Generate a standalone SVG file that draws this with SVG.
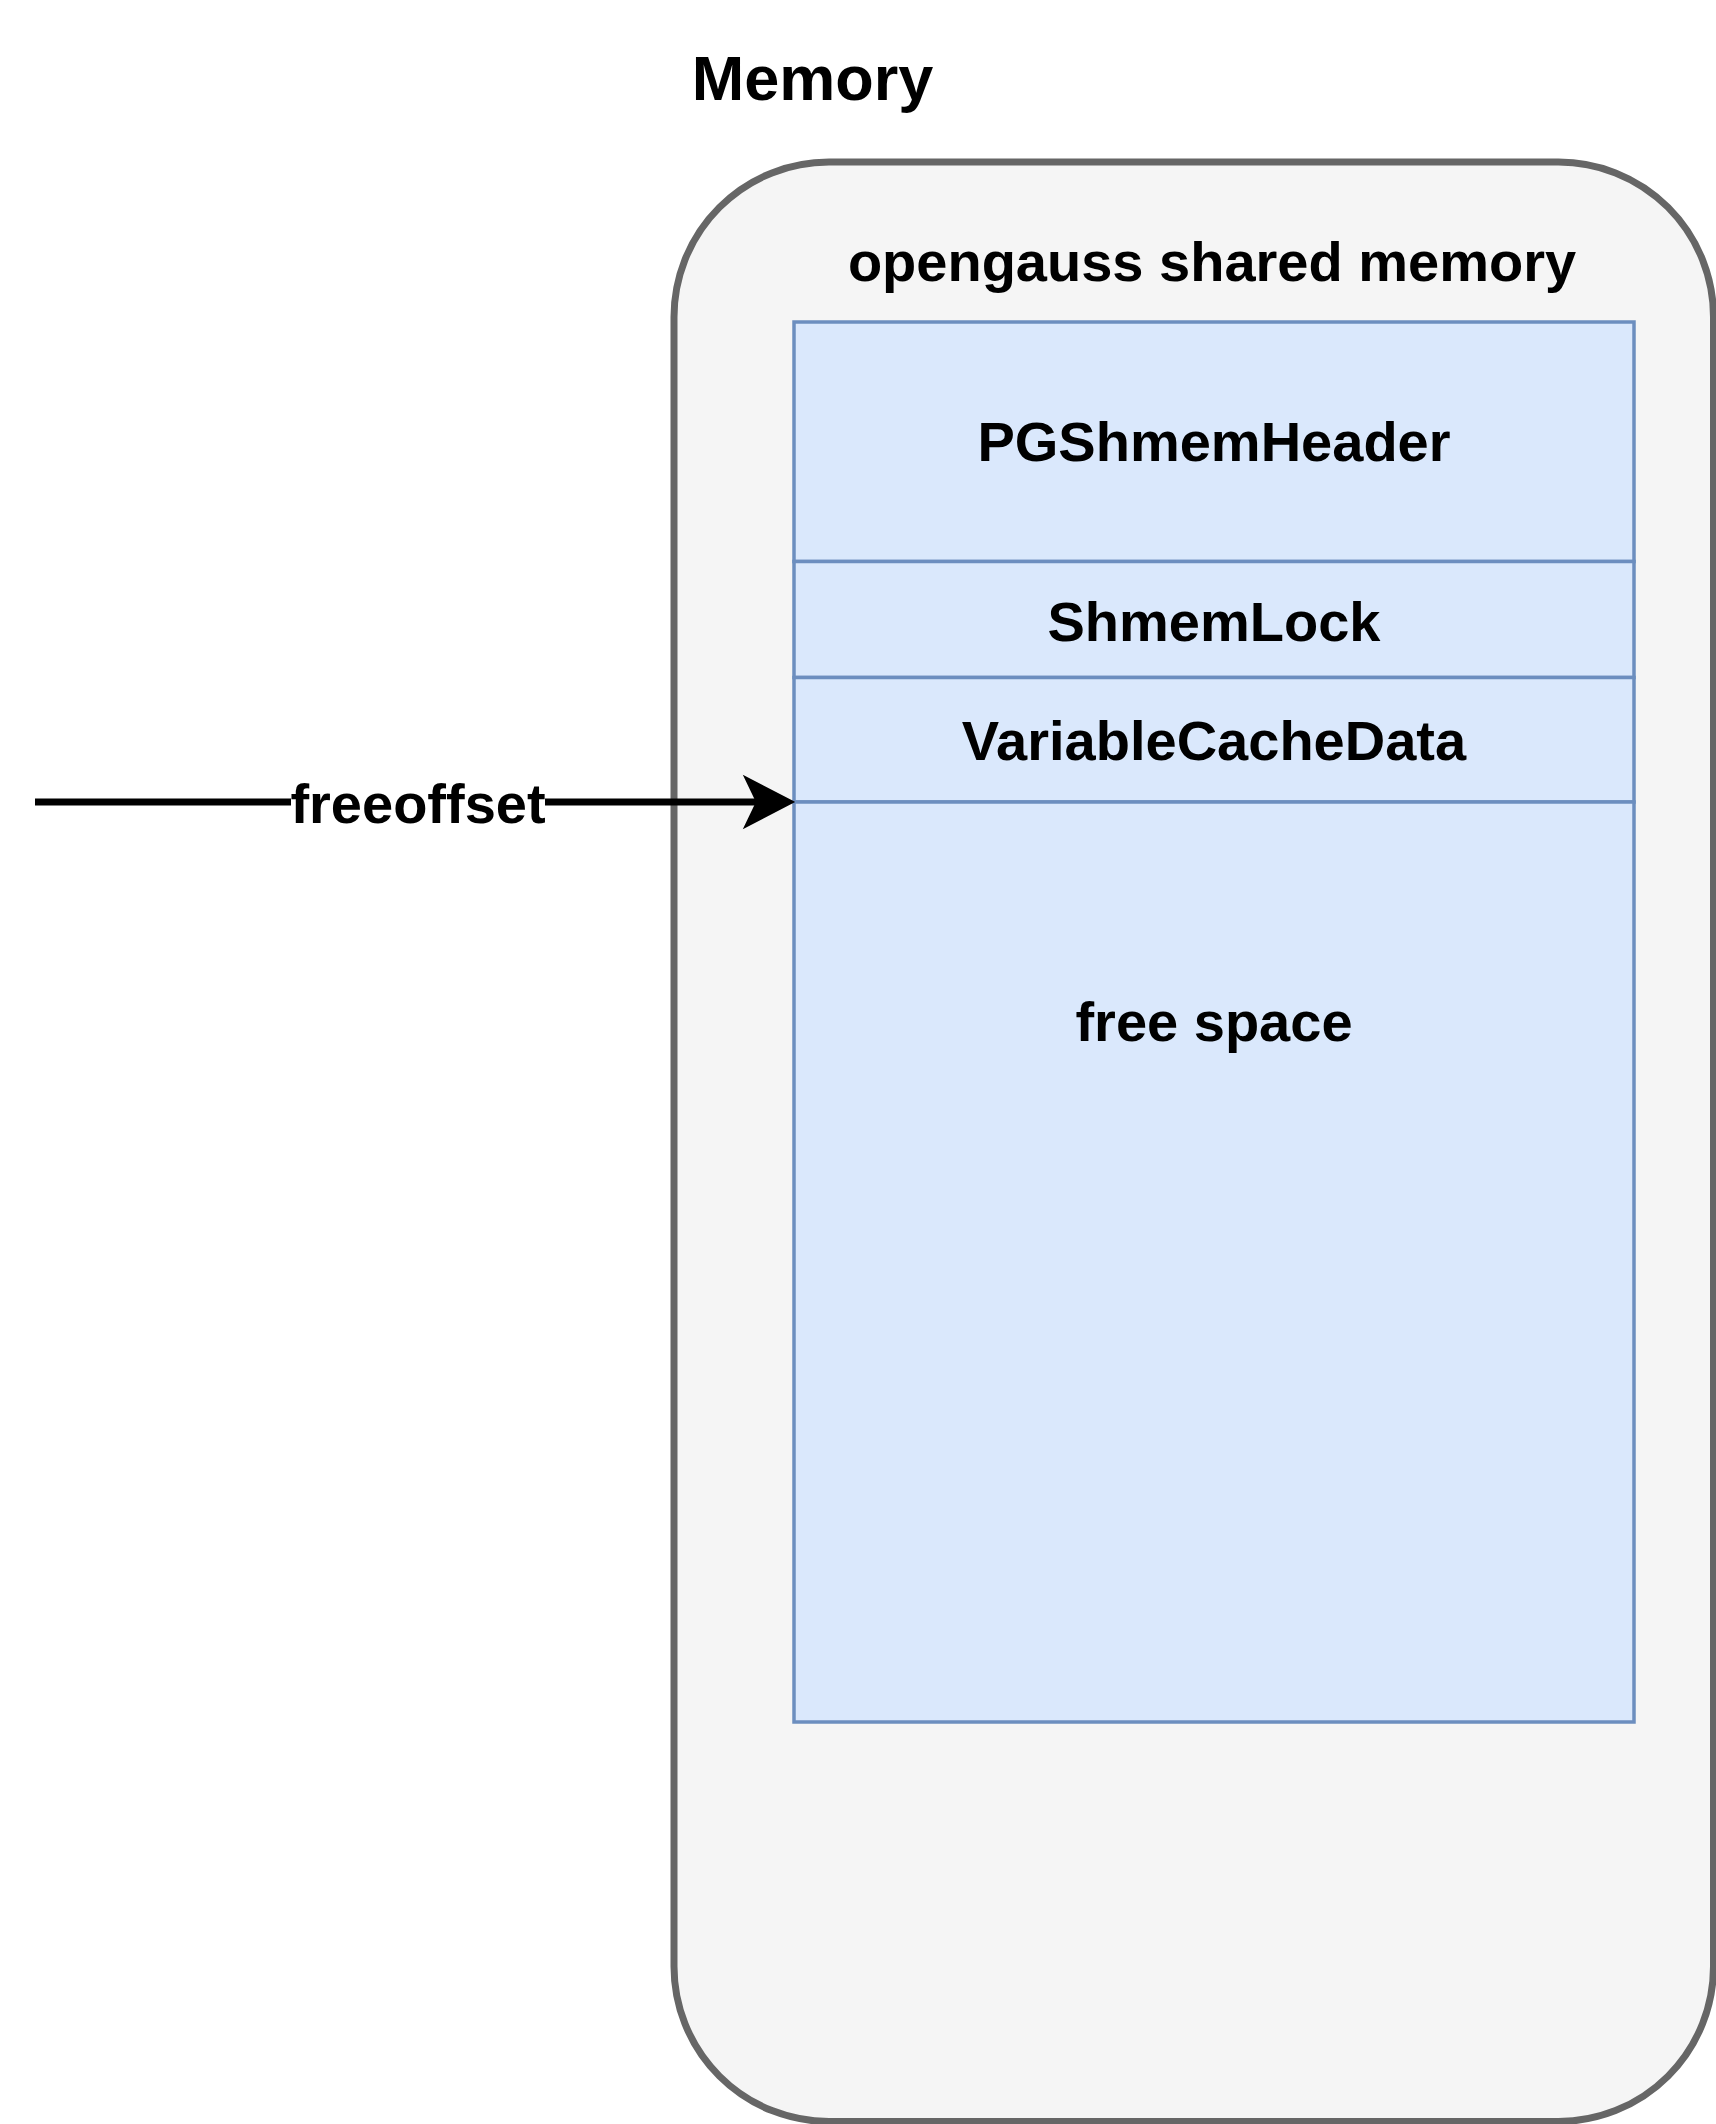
<svg xmlns="http://www.w3.org/2000/svg" width="1716" height="2124" viewBox="0 0 1716 2124">
  <style>
    .lbl { font-family: "Liberation Sans", Arial, Helvetica, sans-serif; font-weight: bold; fill: #000000; text-anchor: middle; }
    .cell { fill: #dae8fc; stroke: #6c8ebf; stroke-width: 3.5; }
  </style>
  <rect x="0" y="0" width="1716" height="2124" fill="#ffffff"/>
  <g id="title">
    <text class="lbl" x="812.5" y="100" font-size="63">Memory</text>
  </g>
  <g id="memory">
    <rect x="674" y="162" width="1039.5" height="1959.5" rx="155" ry="155" fill="#f5f5f5" stroke="#666666" stroke-width="7"/>
    <text class="lbl" x="1212" y="281" font-size="56">opengauss shared memory</text>
  </g>
  <g id="pgshmemheader">
    <rect class="cell" x="794" y="322" width="840" height="239.5"/>
    <text class="lbl" x="1214" y="461" font-size="56">PGShmemHeader</text>
  </g>
  <g id="shmemlock">
    <rect class="cell" x="794" y="561.5" width="840" height="116"/>
    <text class="lbl" x="1214" y="641" font-size="56">ShmemLock</text>
  </g>
  <g id="variablecachedata">
    <rect class="cell" x="794" y="677.5" width="840" height="124.5"/>
    <text class="lbl" x="1214" y="760" font-size="56">VariableCacheData</text>
  </g>
  <g id="freespace">
    <rect class="cell" x="794" y="802" width="840" height="920"/>
    <text class="lbl" x="1214" y="1041" font-size="56">free space</text>
  </g>
  <g id="connectors">
    <line x1="35" y1="802" x2="758" y2="802" stroke="#000000" stroke-width="7"/>
    <polygon points="793,802 745,777 757,802 745,827" fill="#000000" stroke="#000000" stroke-width="2" stroke-linejoin="miter"/>
    <rect x="291" y="782" width="254" height="44" fill="#ffffff"/>
    <text class="lbl" x="418" y="823" font-size="56">freeoffset</text>
  </g>
</svg>
